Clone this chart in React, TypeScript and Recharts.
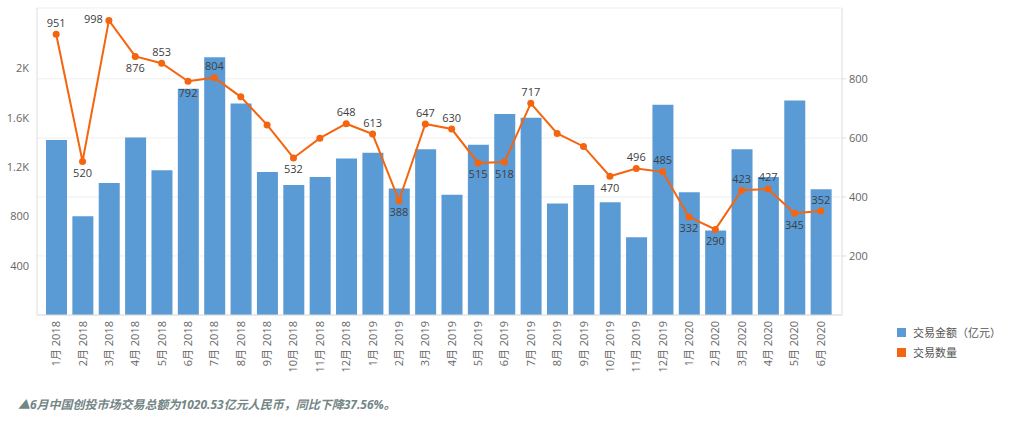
import React from "react";
import {
  ComposedChart,
  Bar,
  Line,
  XAxis,
  YAxis,
  CartesianGrid,
  Legend,
  LabelList,
} from "recharts";

const months = [
  "1月 2018", "2月 2018", "3月 2018", "4月 2018", "5月 2018", "6月 2018",
  "7月 2018", "8月 2018", "9月 2018", "10月 2018", "11月 2018", "12月 2018",
  "1月 2019", "2月 2019", "3月 2019", "4月 2019", "5月 2019", "6月 2019",
  "7月 2019", "8月 2019", "9月 2019", "10月 2019", "11月 2019", "12月 2019",
  "1月 2020", "2月 2020", "3月 2020", "4月 2020", "5月 2020", "6月 2020",
];

// 交易金额（亿元）
const amounts = [
  1420, 800, 1070, 1440, 1175, 1835, 2090, 1715, 1160, 1055, 1120, 1270,
  1315, 1025, 1345, 975, 1380, 1630, 1600, 905, 1055, 915, 630, 1705,
  995, 685, 1345, 1120, 1740, 1020.53,
];

// 交易数量
const counts = [
  951, 520, 998, 876, 853, 792, 804, 739, 644, 532, 599, 648,
  613, 388, 647, 630, 515, 518, 717, 615, 571, 470, 496, 485,
  332, 290, 423, 427, 345, 352,
];

const leftTicks = [400, 800, 1200, 1600, 2000];
const rightTicks = [200, 400, 600, 800];

// months whose count label is not drawn
const hiddenLabels = ["8月 2018", "9月 2018", "11月 2018", "8月 2019", "9月 2019"];

const BAR_COLOR = "#5B9BD5";
const LINE_COLOR = "#F5650F";
const AXIS_COLOR = "#dcdcdc";
const FONT = "'Segoe UI', 'Open Sans', 'Noto Sans CJK SC', sans-serif";

const data = months.map((m, i) => ({ month: m, amount: amounts[i], count: counts[i] }));

const fmtLeft = (v: number) => (v >= 1000 ? `${v / 1000}K` : `${v}`);

function XTick({ x, y, payload }: any) {
  return (
    <g transform={`translate(${x},${y})`}>
      <text transform="rotate(-90)" textAnchor="end" dy={4} fill="#666" fontSize={11}>
        {payload.value}
      </text>
    </g>
  );
}

function CountLabel({ x, y, value, index }: any) {
  if (hiddenLabels.includes(months[index])) return null;
  const prev = index > 0 ? counts[index - 1] : null;
  const next = index < counts.length - 1 ? counts[index + 1] : null;
  const nb = [prev, next].filter((n) => n !== null) as number[];
  const avg = nb.reduce((a, b) => a + b, 0) / nb.length;
  const common = { fill: "#404040", fontSize: 11, dominantBaseline: "central" as const };
  if (y < 28) {
    return (
      <text x={x - 6} y={y - 2} textAnchor="end" {...common}>
        {value}
      </text>
    );
  }
  const below = nb.length > 1 ? value < avg : false;
  return (
    <text x={x} y={below ? y + 11 : y - 12} textAnchor="middle" {...common}>
      {value}
    </text>
  );
}

function LegendContent() {
  const items = [
    { name: "交易金额（亿元）", color: BAR_COLOR },
    { name: "交易数量", color: LINE_COLOR },
  ];
  return (
    <div>
      {items.map((it) => (
        <div key={it.name} style={{ display: "flex", alignItems: "center", height: 20 }}>
          <span style={{ width: 9, height: 9, background: it.color, marginRight: 7 }} />
          <span style={{ fontSize: 11, color: "#555" }}>{it.name}</span>
        </div>
      ))}
    </div>
  );
}

export default function App() {
  return (
    <div style={{ position: "absolute", left: 0, top: 0, width: 1024, height: 424, fontFamily: FONT }}>
      <ComposedChart
        width={1024}
        height={424}
        data={data}
        margin={{ top: 8, right: 0, bottom: 0, left: 0 }}
        style={{ fontFamily: FONT }}
      >
        <CartesianGrid yAxisId="right" vertical={false} stroke="#efefef" />
        <XAxis
          dataKey="month"
          height={109}
          interval={0}
          padding={{ left: 6, right: 8 }}
          tick={<XTick />}
          tickLine={false}
          tickSize={0}
          tickMargin={6}
          axisLine={{ stroke: AXIS_COLOR }}
        />
        <YAxis
          yAxisId="left"
          width={37}
          domain={[0, 2490]}
          ticks={leftTicks}
          tickFormatter={fmtLeft}
          tickLine={false}
          tickSize={0}
          tickMargin={8}
          axisLine={{ stroke: AXIS_COLOR }}
          tick={{ fill: "#666", fontSize: 11 }}
        />
        <YAxis
          yAxisId="right"
          orientation="right"
          width={55}
          domain={[0, 1040]}
          ticks={rightTicks}
          tickSize={4}
          tickMargin={3}
          tickLine={{ stroke: AXIS_COLOR }}
          axisLine={{ stroke: AXIS_COLOR }}
          tick={{ fill: "#666", fontSize: 11, textAnchor: "start" }}
        />
        <Legend
          layout="vertical"
          align="right"
          verticalAlign="middle"
          width={127}
          wrapperStyle={{ top: 322, right: 0 }}
          content={<LegendContent />}
        />
        <Bar
          yAxisId="left"
          dataKey="amount"
          name="交易金额（亿元）"
          fill={BAR_COLOR}
          barSize={21}
          isAnimationActive={false}
        />
        <Line
          yAxisId="right"
          dataKey="count"
          name="交易数量"
          stroke={LINE_COLOR}
          strokeWidth={2}
          dot={{ r: 3.5, fill: LINE_COLOR, stroke: LINE_COLOR, strokeWidth: 0 }}
          activeDot={false}
          isAnimationActive={false}
        >
          <LabelList dataKey="count" content={<CountLabel />} />
        </Line>
      </ComposedChart>
      <div
        style={{
          position: "absolute",
          left: 18,
          top: 395,
          fontSize: 12,
          fontWeight: "bold",
          fontStyle: "italic",
          color: "#738585",
          whiteSpace: "nowrap",
        }}
      >
        ▲6月中国创投市场交易总额为1020.53亿元人民币，同比下降37.56%。
      </div>
    </div>
  );
}
